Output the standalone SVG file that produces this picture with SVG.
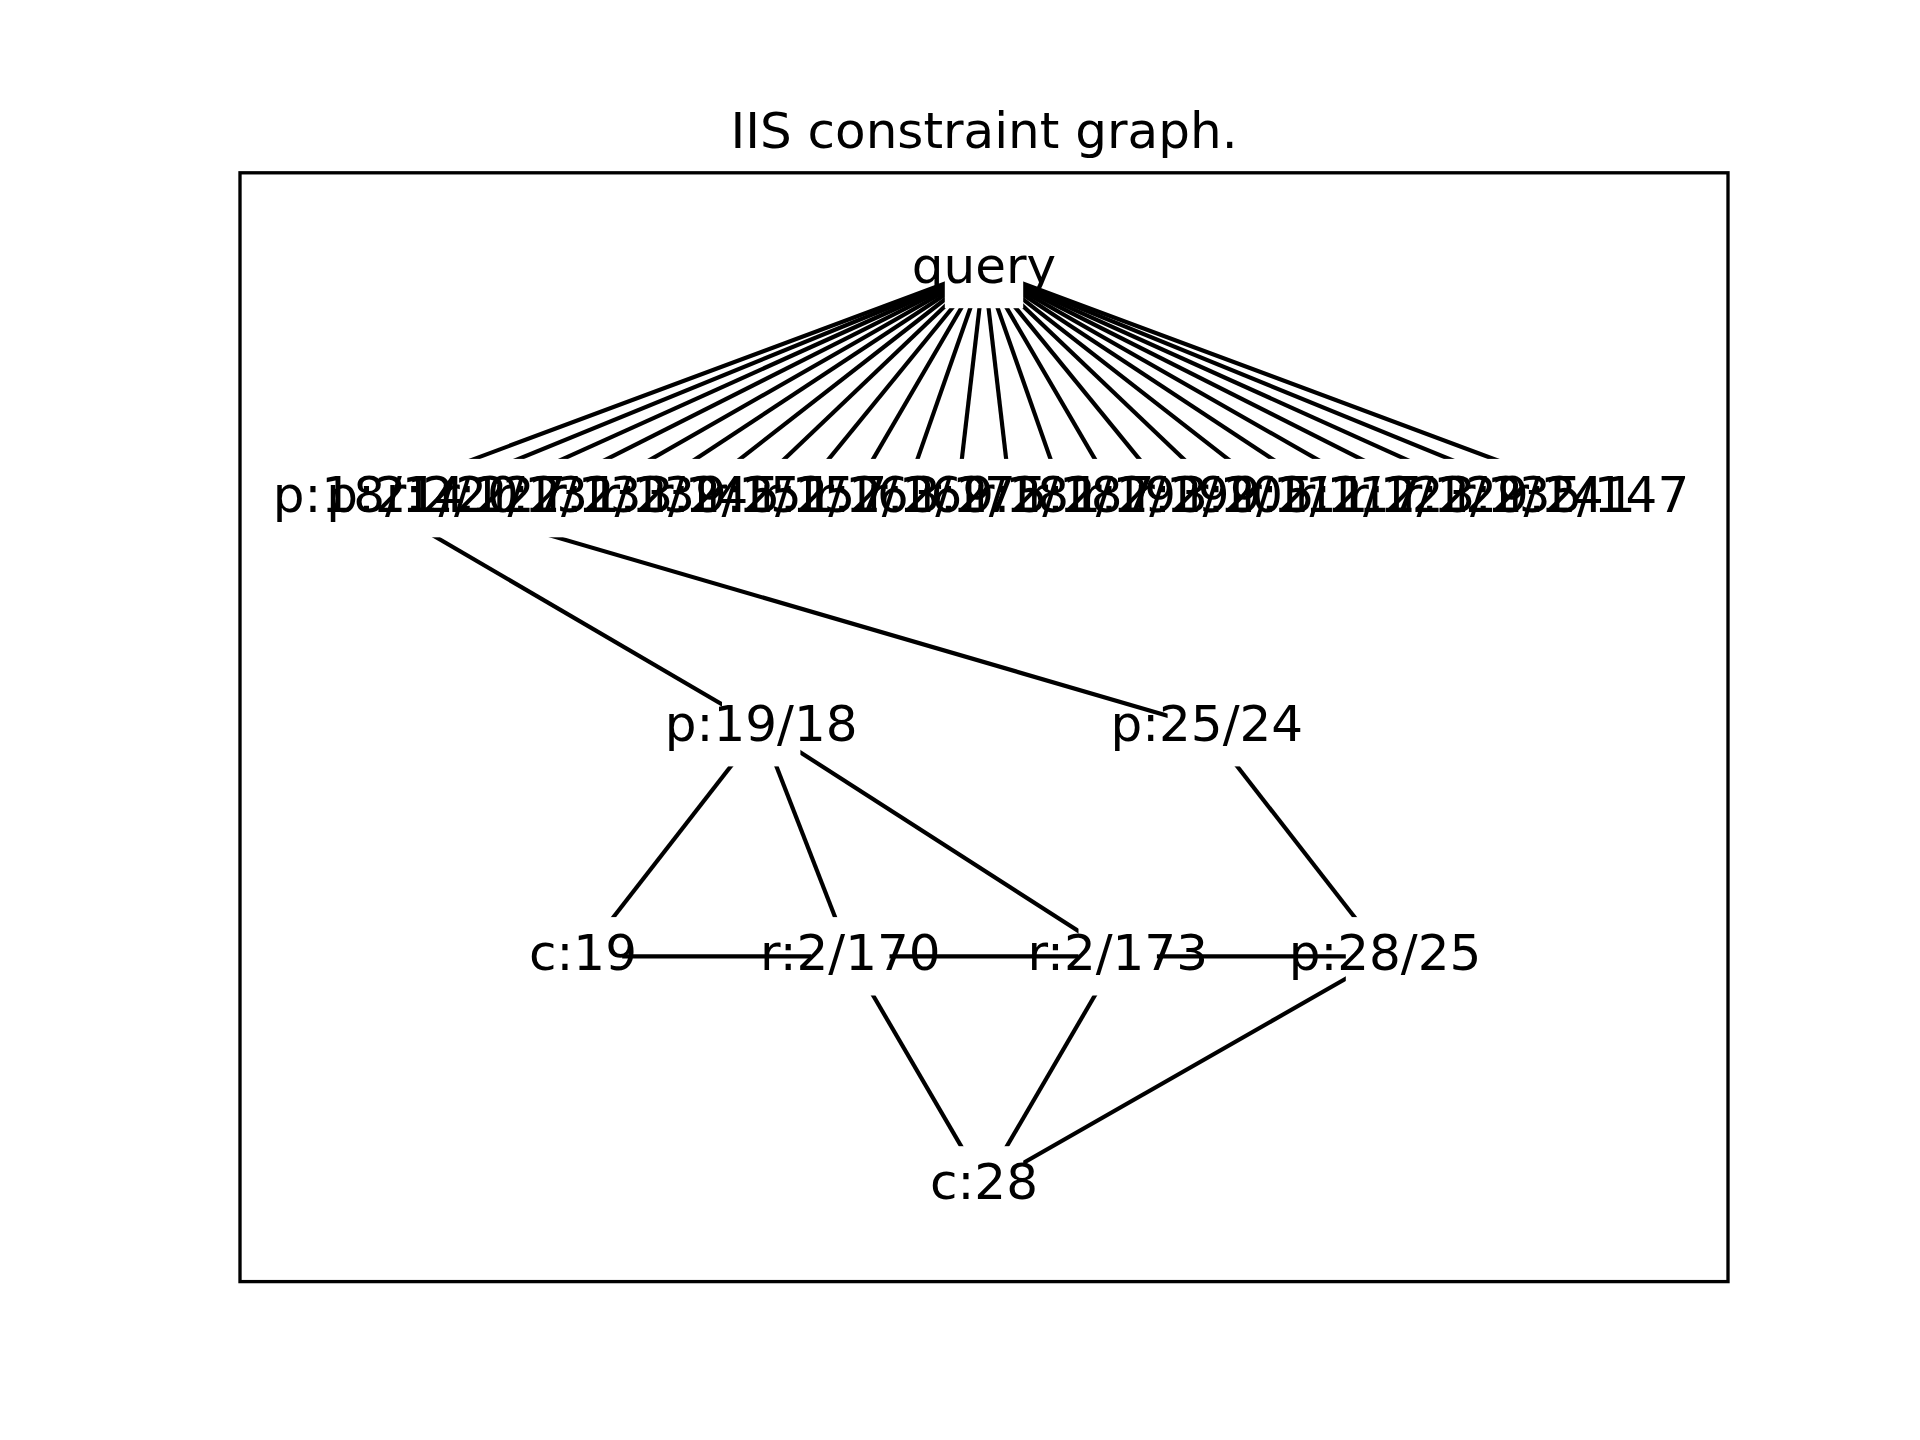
<svg xmlns="http://www.w3.org/2000/svg" width="1920" height="1440" viewBox="0 0 1920 1440">
  <style>
    .edge { stroke: #000; stroke-width: 4.17; stroke-linecap: butt; fill: none; }
    .marker { fill: #fff; stroke: none; }
    .label { font-family: "DejaVu Sans", "Liberation Sans", sans-serif; font-size: 50px; fill: #000; text-anchor: middle; }
    .frame { fill: none; stroke: #000; stroke-width: 3.33; }
  </style>
  <rect x="0" y="0" width="1920" height="1440" fill="#fff"/>

  <!-- title -->
  <text class="label" x="984" y="147.8">IIS constraint graph.</text>

  <!-- connectors -->
  <g id="edges">
    <line class="edge" x1="984" y1="269" x2="369.1" y2="498.1"/>
    <line class="edge" x1="984" y1="269" x2="422.6" y2="498.1"/>
    <line class="edge" x1="984" y1="269" x2="476.0" y2="498.1"/>
    <line class="edge" x1="984" y1="269" x2="529.5" y2="498.1"/>
    <line class="edge" x1="984" y1="269" x2="583.0" y2="498.1"/>
    <line class="edge" x1="984" y1="269" x2="636.5" y2="498.1"/>
    <line class="edge" x1="984" y1="269" x2="689.9" y2="498.1"/>
    <line class="edge" x1="984" y1="269" x2="743.4" y2="498.1"/>
    <line class="edge" x1="984" y1="269" x2="796.9" y2="498.1"/>
    <line class="edge" x1="984" y1="269" x2="850.3" y2="498.1"/>
    <line class="edge" x1="984" y1="269" x2="903.8" y2="498.1"/>
    <line class="edge" x1="984" y1="269" x2="957.3" y2="498.1"/>
    <line class="edge" x1="984" y1="269" x2="1010.7" y2="498.1"/>
    <line class="edge" x1="984" y1="269" x2="1064.2" y2="498.1"/>
    <line class="edge" x1="984" y1="269" x2="1117.7" y2="498.1"/>
    <line class="edge" x1="984" y1="269" x2="1171.2" y2="498.1"/>
    <line class="edge" x1="984" y1="269" x2="1224.6" y2="498.1"/>
    <line class="edge" x1="984" y1="269" x2="1278.1" y2="498.1"/>
    <line class="edge" x1="984" y1="269" x2="1331.6" y2="498.1"/>
    <line class="edge" x1="984" y1="269" x2="1385.0" y2="498.1"/>
    <line class="edge" x1="984" y1="269" x2="1438.5" y2="498.1"/>
    <line class="edge" x1="984" y1="269" x2="1492.0" y2="498.1"/>
    <line class="edge" x1="984" y1="269" x2="1545.4" y2="498.1"/>
    <line class="edge" x1="984" y1="269" x2="1598.9" y2="498.1"/>

    <line class="edge" x1="369.1" y1="498.1" x2="761.2" y2="727.2"/>
    <line class="edge" x1="422.6" y1="498.1" x2="1206.8" y2="727.2"/>

    <line class="edge" x1="761.2" y1="727.2" x2="583.0" y2="956.3"/>
    <line class="edge" x1="761.2" y1="727.2" x2="850.3" y2="956.3"/>
    <line class="edge" x1="761.2" y1="727.2" x2="1117.7" y2="956.3"/>
    <line class="edge" x1="1206.8" y1="727.2" x2="1385.0" y2="956.3"/>

    <line class="edge" x1="583.0" y1="956.3" x2="850.3" y2="956.3"/>
    <line class="edge" x1="850.3" y1="956.3" x2="1117.7" y2="956.3"/>
    <line class="edge" x1="1117.7" y1="956.3" x2="1385.0" y2="956.3"/>

    <line class="edge" x1="850.3" y1="956.3" x2="984" y2="1185.4"/>
    <line class="edge" x1="1117.7" y1="956.3" x2="984" y2="1185.4"/>
    <line class="edge" x1="1385.0" y1="956.3" x2="984" y2="1185.4"/>
  </g>

  <!-- square node markers (white), drawn under all labels -->
  <g id="node-markers">
    <rect class="marker" x="944.8" y="229.8" width="78.4" height="78.4"/>
    <rect class="marker" x="329.9" y="458.9" width="1308.2" height="78.4"/>
    <rect class="marker" x="722.0" y="688.0" width="78.4" height="78.4"/>
    <rect class="marker" x="1167.6" y="688.0" width="78.4" height="78.4"/>
    <rect class="marker" x="543.8" y="917.1" width="78.4" height="78.4"/>
    <rect class="marker" x="811.1" y="917.1" width="78.4" height="78.4"/>
    <rect class="marker" x="1078.5" y="917.1" width="78.4" height="78.4"/>
    <rect class="marker" x="1345.8" y="917.1" width="78.4" height="78.4"/>
    <rect class="marker" x="944.8" y="1146.2" width="78.4" height="78.4"/>
  </g>

  <!-- node labels -->
  <g id="node-query"><text class="label" x="984" y="282.8">query</text></g>

  <g id="node-p18-14"><text class="label" x="369.1" y="511.9">p:18/14</text></g>
  <g id="node-p21-20"><text class="label" x="422.6" y="511.9">p:21/20</text></g>
  <g id="node-r2-127"><text class="label" x="476.0" y="511.9">r:2/127</text></g>
  <g id="node-r2-131"><text class="label" x="529.5" y="511.9">r:2/131</text></g>
  <g id="node-r2-133"><text class="label" x="583.0" y="511.9">r:2/133</text></g>
  <g id="node-r2-139"><text class="label" x="636.5" y="511.9">r:2/139</text></g>
  <g id="node-r2-145"><text class="label" x="689.9" y="511.9">r:2/145</text></g>
  <g id="node-r2-151"><text class="label" x="743.4" y="511.9">r:2/151</text></g>
  <g id="node-r2-157"><text class="label" x="796.9" y="511.9">r:2/157</text></g>
  <g id="node-r2-163"><text class="label" x="850.3" y="511.9">r:2/163</text></g>
  <g id="node-r2-169"><text class="label" x="903.8" y="511.9">r:2/169</text></g>
  <g id="node-r2-175"><text class="label" x="957.3" y="511.9">r:2/175</text></g>
  <g id="node-r2-181"><text class="label" x="1010.7" y="511.9">r:2/181</text></g>
  <g id="node-r2-187"><text class="label" x="1064.2" y="511.9">r:2/187</text></g>
  <g id="node-r2-193"><text class="label" x="1117.7" y="511.9">r:2/193</text></g>
  <g id="node-r2-199"><text class="label" x="1171.2" y="511.9">r:2/199</text></g>
  <g id="node-r2-105"><text class="label" x="1224.6" y="511.9">r:2/105</text></g>
  <g id="node-r2-111"><text class="label" x="1278.1" y="511.9">r:2/111</text></g>
  <g id="node-r2-117"><text class="label" x="1331.6" y="511.9">r:2/117</text></g>
  <g id="node-r2-123"><text class="label" x="1385.0" y="511.9">r:2/123</text></g>
  <g id="node-r2-129"><text class="label" x="1438.5" y="511.9">r:2/129</text></g>
  <g id="node-r2-135"><text class="label" x="1492.0" y="511.9">r:2/135</text></g>
  <g id="node-r2-141"><text class="label" x="1545.4" y="511.9">r:2/141</text></g>
  <g id="node-r2-147"><text class="label" x="1598.9" y="511.9">r:2/147</text></g>

  <g id="node-p19-18"><text class="label" x="761.2" y="741.0">p:19/18</text></g>
  <g id="node-p25-24"><text class="label" x="1206.8" y="741.0">p:25/24</text></g>

  <g id="node-c19"><text class="label" x="583.0" y="970.1">c:19</text></g>
  <g id="node-r2-170"><text class="label" x="850.3" y="970.1">r:2/170</text></g>
  <g id="node-r2-173"><text class="label" x="1117.7" y="970.1">r:2/173</text></g>
  <g id="node-p28-25"><text class="label" x="1385.0" y="970.1">p:28/25</text></g>

  <g id="node-c28"><text class="label" x="984" y="1199.2">c:28</text></g>

  <!-- axes frame -->
  <rect class="frame" x="240" y="172.8" width="1488" height="1108.8"/>
</svg>
